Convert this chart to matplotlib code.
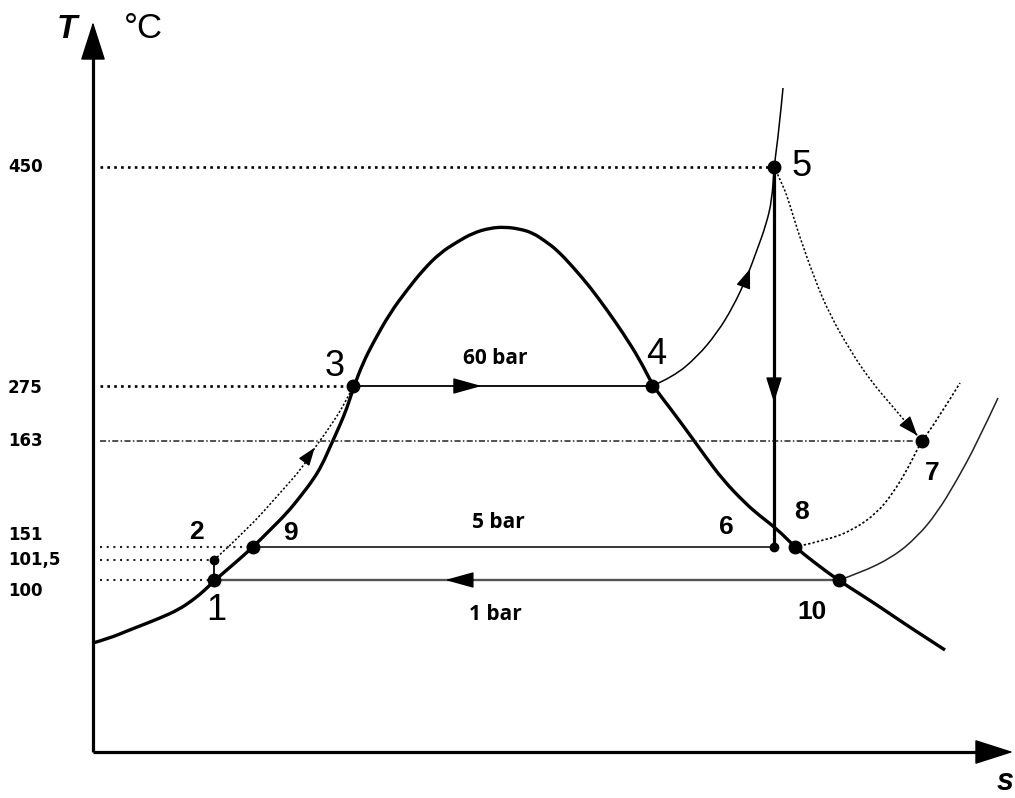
import matplotlib.pyplot as plt
from matplotlib.path import Path
from matplotlib.patches import PathPatch

# -----------------------------------------
# Data: schematic T-s diagram of the steam cycle
# -----------------------------------------

# temperature marks on the T axis and their height on the schematic scale
temp_ticks = [450, 275, 163, 151, 101.5, 100]
tick_text = ["450", "275", "163", "151", "101,5", "100"]
tick_height = [585, 366, 311, 205, 192, 172]

# state points of the cycle (s in arbitrary units)
point_names = ["1", "2", "3", "4", "5", "6", "7", "8", "9", "10"]
point_s = [121, 121, 260, 559, 681, 681, 829, 702, 160, 746]
point_T = [100, 101.5, 275, 275, 450, 151, 163, 151, 151, 100]

# saturation dome
dome_s = [0, 17, 34, 52, 67, 85, 100, 112, 122, 142, 160, 177, 194, 207, 220,
          229, 237, 247, 254, 261, 270, 280, 297, 314, 330, 347, 364, 380, 397,
          412, 427, 440, 452, 464, 480, 497, 514, 530, 547, 560, 577, 597, 612,
          630, 652, 667, 684, 702, 722, 745, 767, 787, 812, 832, 852]
dome_h = [109, 114, 121, 128, 134, 142, 152, 162, 172, 189, 205, 222, 239, 255,
          272, 287, 305, 327, 344, 366, 389, 409, 439, 462, 482, 499, 510, 519,
          524, 525, 523, 519, 511, 502, 485, 465, 442, 419, 392, 366, 344, 317,
          296, 272, 249, 236, 223, 205, 189, 172, 158, 145, 128, 115, 102]

# 60 bar isobar in the superheated region (4 -> 5)
hp_s = [559, 580, 604, 624, 640, 654, 664, 673, 679, 681, 686, 690]
hp_h = [366, 375, 395, 419, 445, 475, 502, 527, 552, 585, 622, 664]

# 5 bar isobar (8 -> 7)
mp_s = [702, 734, 760, 784, 800, 814, 824, 829, 844, 867]
mp_h = [205, 212, 222, 239, 259, 282, 302, 311, 332, 369]

# 1 bar isobar (10 ->)
lp_s = [746, 767, 800, 824, 844, 864, 884, 905]
lp_h = [172, 179, 195, 215, 239, 272, 309, 354]

# real expansion 5 -> 7
exp_s = [681, 690, 697, 705, 722, 737, 757, 777, 800, 817, 829]
exp_h = [585, 567, 547, 520, 472, 437, 402, 372, 345, 325, 311]

# feed water heating 2 -> 3
heat_s = [121, 154, 187, 210, 220, 237, 254, 260]
heat_h = [192, 222, 259, 285, 302, 325, 352, 366]

level = dict(zip(temp_ticks, tick_height))
point_h = [level[t] for t in point_T]
P = {n: (s, h) for n, s, h in zip(point_names, point_s, point_h)}

# -----------------------------------------
# Figure
# -----------------------------------------

fig = plt.figure(figsize=(10.15, 7.98), dpi=100)
ax = fig.add_axes([0, 0, 1, 1])
ax.set_xlim(-93, 922)
ax.set_ylim(-46, 752)
ax.axis("off")

fine_dots = (0, (1.4, 1.3))


def curve(xs, ys, **kw):
    # quadratic Bezier pieces through the midpoints, for a smooth line
    pts = list(zip(xs, ys))
    verts, codes = [pts[0]], [Path.MOVETO]
    for i in range(1, len(pts) - 1):
        if i < len(pts) - 2:
            end = ((pts[i][0] + pts[i + 1][0]) / 2, (pts[i][1] + pts[i + 1][1]) / 2)
        else:
            end = pts[i + 1]
        verts += [pts[i], end]
        codes += [Path.CURVE3, Path.CURVE3]
    ax.add_patch(PathPatch(Path(verts, codes), fill=False, capstyle="butt", **kw))


def head(tip, tail, scale=10, hl=1.8, hw=0.5, color="black"):
    ax.annotate("", xy=tip, xytext=tail,
                arrowprops=dict(arrowstyle=f"-|>,head_length={hl},head_width={hw}",
                                color=color, lw=1, mutation_scale=scale,
                                shrinkA=0, shrinkB=0))


def along(a, b, frac, length):
    (x0, y0), (x1, y1) = a, b
    tx, ty = x0 + frac * (x1 - x0), y0 + frac * (y1 - y0)
    d = ((x1 - x0) ** 2 + (y1 - y0) ** 2) ** 0.5
    return (tx, ty), (tx - length * (x1 - x0) / d, ty - length * (y1 - y0) / d)


# axes with arrows
ax.plot([0, 0], [0, 700], color="black", lw=2.3, solid_capstyle="butt")
ax.plot([0, 890], [0, 0], color="black", lw=2.3, solid_capstyle="butt")
head((0, 730), (0, 690), hl=2.5, hw=0.8)
head((920, 0), (880, 0), hl=2.5, hw=0.8)

ax.text(-26, 723, "T", fontsize=24, fontweight="bold", fontstyle="italic",
        family="Liberation Sans", ha="center", va="center")
ax.text(50, 723, "°C", fontsize=25, family="Liberation Sans",
        ha="center", va="center")
ax.text(912, -45, "s", fontsize=22, fontweight="bold", fontstyle="italic",
        family="Liberation Sans", ha="center", va="bottom")

# temperature guide lines and tick labels
label_shift = [0, -2, 0, 12, 0, -11]
for t, txt, h, dy in zip(temp_ticks, tick_text, tick_height, label_shift):
    end = min(s for s, pt in zip(point_s, point_T) if pt == t)
    if t in (450, 275):
        ax.plot([7, end], [h, h], color="black", lw=1.9,
                linestyle=(0, (1, 1.6)))
    elif t == 163:
        ax.plot([7, end - 8], [h, h], color="#222222", lw=1.1,
                linestyle=(0, (4, 1.5, 1, 1.5)))
    else:
        ax.plot([7, end - 4], [h, h], color="#222222", lw=1.5,
                linestyle=(0, (1, 2.2)))
    ax.text(-85, h + dy, txt, fontsize=12, fontweight="bold",
            family="DejaVu Sans", ha="left", va="center")

# saturation dome
curve(dome_s, dome_h, color="black", lw=2.4)

# isobars
curve(hp_s, hp_h, color="black", lw=1.1)
curve(mp_s, mp_h, color="black", lw=1.2, linestyle=fine_dots)
curve(lp_s, lp_h, color="#222222", lw=1.1)

# process lines
curve(exp_s, exp_h, color="black", lw=1.1, linestyle=fine_dots)
curve(heat_s, heat_h, color="black", lw=1.1, linestyle=fine_dots)
ax.plot(*zip(P["1"], P["2"]), color="black", lw=1.3)
ax.plot(*zip(P["3"], P["4"]), color="black", lw=1.3)
ax.plot(*zip(P["9"], P["6"]), color="black", lw=1.1)
ax.plot(*zip(P["10"], P["1"]), color="#555555", lw=1.7)
ax.plot(*zip(P["5"], P["6"]), color="black", lw=2.3)

# flow direction arrows
tip, tail = along(P["3"], P["4"], 0.43, 25)
head(tip, tail, hl=1.8, hw=0.5)
tip, tail = along(P["10"], P["1"], 0.63, 25)
head(tip, tail, hl=1.8, hw=0.5)
tip, tail = along(P["5"], P["6"], 0.62, 22)
head(tip, tail, hl=1.6, hw=0.5)
tip, tail = along((hp_s[5], hp_h[5]), (hp_s[6], hp_h[6]), 0.3, 16)
head(tip, tail, hl=1.2, hw=0.45)
tip, tail = along((heat_s[4], heat_h[4]), (heat_s[5], heat_h[5]), 0.1, 14)
head(tip, tail, hl=1.1, hw=0.4)
tip, tail = along((exp_s[-2], exp_h[-2]), (exp_s[-1], exp_h[-1]), 0.6, 14)
head(tip, tail, hl=1.2, hw=0.45)

# state points
small = ("2", "6")
for n, s, h in zip(point_names, point_s, point_h):
    ax.plot(s, h, "o", color="black", ms=6 if n in small else 9, zorder=5)

# state point labels
label_dx = [2, -18, -18, 4, 28, -48, 10, 7, 37, -27]
label_dy = [-31, 28, 20, 31, 1, 20, -32, 35, 14, -32]
thin = ("1", "3", "4", "5")
for n, s, h, dx, dy in zip(point_names, point_s, point_h, label_dx, label_dy):
    if n in thin:
        ax.text(s + dx, h + dy, n, fontsize=26, family="Liberation Sans",
                ha="center", va="center")
    else:
        ax.text(s + dx, h + dy, n, fontsize=19, fontweight="bold",
                family="Liberation Sans", ha="center", va="center")

# pressure labels
ax.text(402, 393, "60 bar", fontsize=15, fontweight="bold",
        family="Open Sans", ha="center", va="center")
ax.text(405, 230, "5 bar", fontsize=15, fontweight="bold",
        family="Open Sans", ha="center", va="center")
ax.text(402, 138, "1 bar", fontsize=15, fontweight="bold",
        family="Open Sans", ha="center", va="center")

fig.savefig("out.png", dpi=100, facecolor="white")
